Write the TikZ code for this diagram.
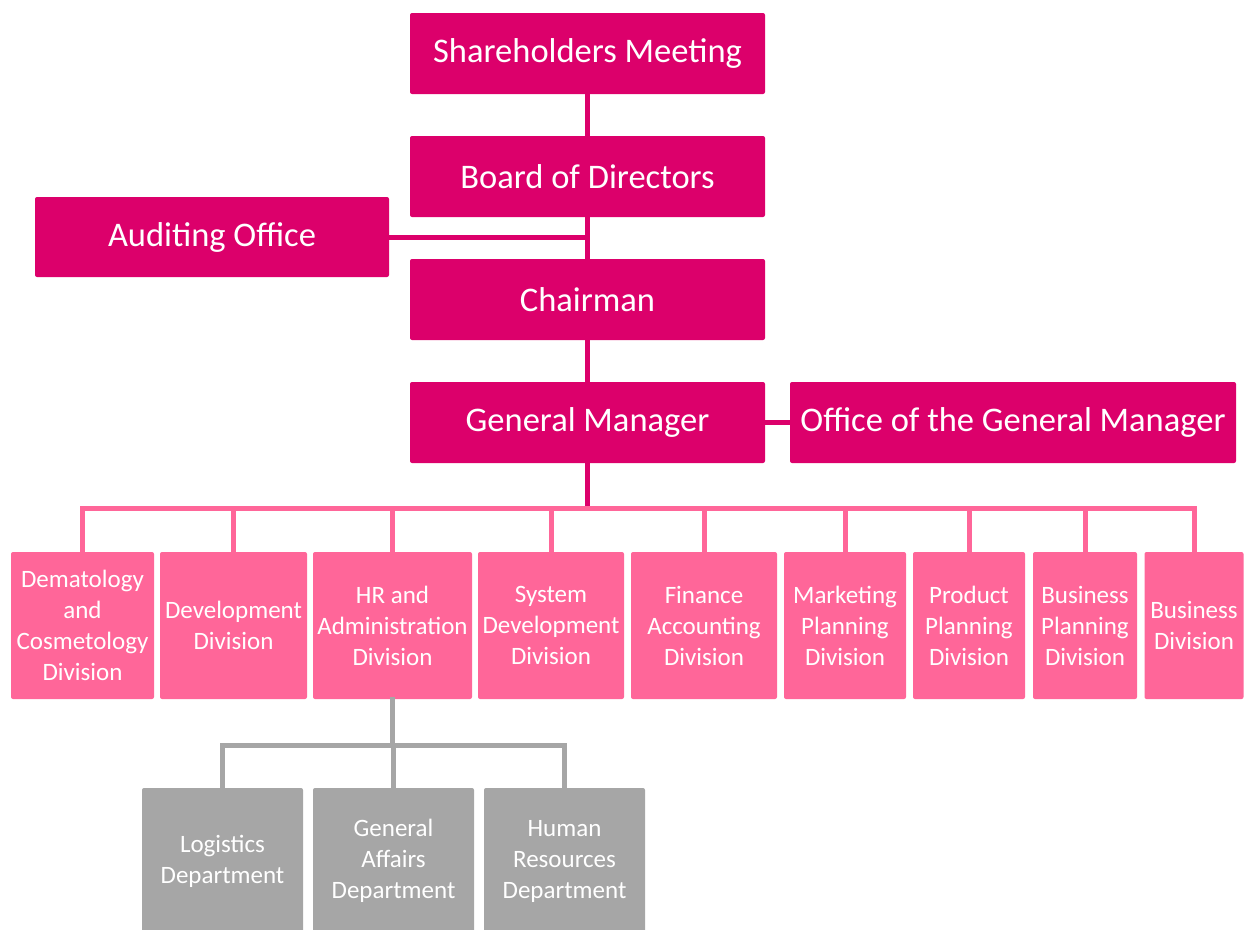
\documentclass[tikz,border=0pt]{standalone}
\usepackage{fontspec}
\setmainfont{Carlito}
\usetikzlibrary{positioning}

\definecolor{magentaA}{HTML}{DC006B}
\definecolor{rosaA}{HTML}{FF6699}
\definecolor{grauA}{HTML}{A6A6A6}

\tikzset{
  gremium/.style={fill=magentaA, text=white, rounded corners=2pt, inner sep=0pt,
    minimum width=355pt, minimum height=81pt, font=\fontsize{34.5}{38}\selectfont},
  division/.style={fill=rosaA, text=white, rounded corners=2pt, inner sep=0pt,
    minimum height=147pt, align=center, font=\fontsize{25}{31}\selectfont},
  abteilung/.style={fill=grauA, text=white, rounded corners=2pt, inner sep=0pt,
    minimum height=146pt, minimum width=161pt, align=center, font=\fontsize{25}{31}\selectfont},
  linie/.style={line width=5pt, magentaA},
  rosalinie/.style={line width=5pt, rosaA, line cap=rect},
  graulinie/.style={line width=5pt, grauA, line cap=rect},
}

\begin{document}
\begin{tikzpicture}[x=1pt, y=-1pt]
  \useasboundingbox (0,0) rectangle (1244,929);

  % Gremien
  \node[gremium] (share) at (587.5,53.5) {Shareholders Meeting};
  \node[gremium] (board) at (587.5,176.5) {Board of Directors};
  \node[gremium] (chair) at (587.5,299.5) {Chairman};
  \node[gremium] (gm) at (587.5,422.5) {General Manager};
  \node[gremium, minimum width=354pt, minimum height=80pt] (audit) at (212,237) {Auditing Office};
  \node[gremium, minimum width=446pt] (ogm) at (1013,422.5) {Office of the General Manager};

  \draw[linie] (share) -- (board);
  \draw[linie] (board) -- (chair);
  \draw[linie] (chair) -- (gm);
  \draw[linie] (audit.east) -- (audit.east -| board.south);
  \draw[linie] (gm) -- (ogm);

  % Divisionen
  \node[division, minimum width=143pt] (d1) at (82.5,625.5) {Dematology\\and\\Cosmetology\\Division};
  \node[division, minimum width=147pt] (d2) at (233.5,625.5) {Development\\Division};
  \node[division, minimum width=159pt] (d3) at (392.5,625.5) {HR and\\Administration\\Division};
  \node[division, minimum width=146pt] (d4) at (551,625.5) {System\\Development\\Division};
  \node[division, minimum width=146pt] (d5) at (704,625.5) {Finance\\Accounting\\Division};
  \node[division, minimum width=122pt] (d6) at (845,625.5) {Marketing\\Planning\\Division};
  \node[division, minimum width=112pt] (d7) at (969,625.5) {Product\\Planning\\Division};
  \node[division, minimum width=104pt] (d8) at (1085,625.5) {Business\\Planning\\Division};
  \node[division, minimum width=99pt] (d9) at (1194,625.5) {Business\\Division};

  \coordinate (bus) at (587.5,508);
  \draw[linie] (gm) -- (bus);
  \draw[rosalinie] (d1.north |- bus) -- (d9.north |- bus);
  \foreach \d in {d1,d2,d3,d4,d5,d6,d7,d8,d9}
    \draw[rosalinie] (\d.north) -- (\d.north |- bus);

  % Abteilungen
  \node[abteilung] (lg) at (222.5,861) {Logistics\\Department};
  \node[abteilung] (ga) at (393.5,861) {General\\Affairs\\Department};
  \node[abteilung] (hrd) at (564.5,861) {Human\\Resources\\Department};

  \coordinate (gbus) at (392.5,745);
  \draw[graulinie] (d3.south) -- (gbus);
  \draw[graulinie] (lg.north |- gbus) -- (hrd.north |- gbus);
  \foreach \a in {lg,ga,hrd}
    \draw[graulinie] (\a.north) -- (\a.north |- gbus);
\end{tikzpicture}
\end{document}
